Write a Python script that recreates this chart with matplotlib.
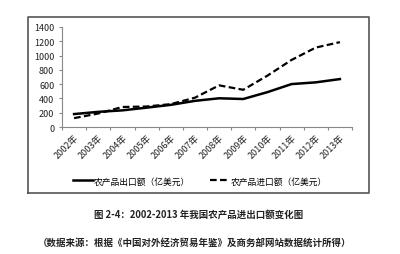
import matplotlib
matplotlib.use("Agg")
import matplotlib.pyplot as plt

plt.rcParams['font.family'] = ['Noto Sans CJK SC', 'DejaVu Sans']

years = ['2002年', '2003年', '2004年', '2005年', '2006年', '2007年',
         '2008年', '2009年', '2010年', '2011年', '2012年', '2013年']
exports = [181, 212, 233, 271, 310, 366, 402, 392, 488, 601, 625, 671]
imports = [124, 189, 280, 287, 320, 410, 583, 521, 719, 939, 1112, 1188]
yticks = [0, 200, 400, 600, 800, 1000, 1200, 1400]
export_label = '农产品出口额（亿美元）'
import_label = '农产品进口额（亿美元）'
caption = '图 2-4：2002-2013 年我国农产品进出口额变化图'
source = '（数据来源：根据《中国对外经济贸易年鉴》及商务部网站数据统计所得）'

fig = plt.figure(figsize=(4, 2.55), dpi=100)
fig.patch.set_facecolor('white')

ax = fig.add_axes([62/400, 1-128/255, (352-62)/400, (128-28)/255])
ax.patch.set_alpha(0)
x = list(range(len(years)))
l1, = ax.plot(x, exports, color='black', linewidth=1.8, linestyle='-')
l2, = ax.plot(x, imports, color='black', linewidth=1.6, linestyle=(0, (3, 1.5)))

# chart-area frame (figure coordinates, unclipped)
L, R, T, B = 28/400, 369/400, 1-18/255, 1-194/255
ax.plot([L, R, R, L, L], [B, B, T, T, B], transform=fig.transFigure,
        clip_on=False, color='#555555', linewidth=1.2)

ax.set_xlim(-0.5, len(years) - 0.5)
ax.set_ylim(0, 1400)
ax.set_yticks(yticks)
ax.set_yticklabels([str(v) for v in yticks], fontsize=6.5, color='#222222')
ax.set_xticks([i - 0.5 for i in range(len(years) + 1)], minor=False)
ax.set_xticklabels([])
ax.set_xticks(x, minor=True)
ax.set_xticklabels(years, minor=True, rotation=45, ha='right', va='top',
                   fontsize=6.5, color='#222222', rotation_mode='anchor')
ax.tick_params(axis='x', which='minor', length=0, pad=4)
ax.tick_params(axis='x', which='major', length=2.5, direction='out', color='#888888')
ax.tick_params(axis='y', length=2.5, direction='out', color='#888888', pad=3)
for s in ['top', 'right']:
    ax.spines[s].set_visible(False)
for s in ['left', 'bottom']:
    ax.spines[s].set_color('#888888')
    ax.spines[s].set_linewidth(0.8)

leg = fig.legend([l1, l2], [export_label, import_label], loc='center',
                 bbox_to_anchor=(200/400, 1-182/255), ncol=2, frameon=False,
                 fontsize=6.3, handlelength=2.3, columnspacing=2.2, handletextpad=0.15)

fig.text(199/400, 1-215/255, caption, ha='center', va='center',
         fontsize=6.8, fontweight='bold', color='#222222')
fig.text(195/400, 1-243/255, source, ha='center', va='center',
         fontsize=6.8, fontweight='bold', color='#222222')

fig.savefig('out.png', dpi=100, facecolor='white')
